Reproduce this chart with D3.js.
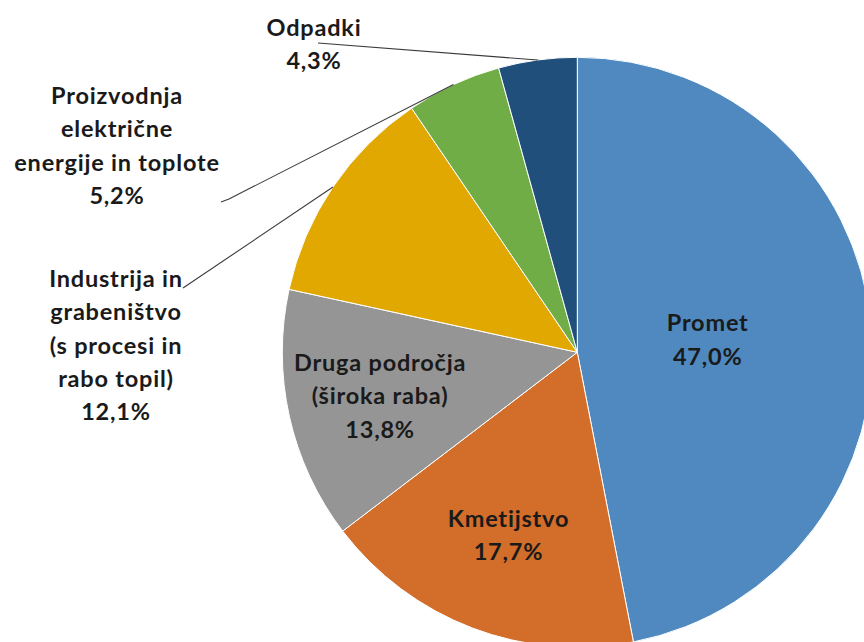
<!DOCTYPE html>
<html>
<head>
<meta charset="utf-8">
<script src="https://cdn.jsdelivr.net/npm/d3@7"></script>
<style>
  html, body { margin: 0; padding: 0; background: #fff; overflow: hidden; }
  svg text { font-family: Lato, "Open Sans", "DejaVu Sans", sans-serif; font-weight: bold; fill: #1a1a1a; letter-spacing: 0.8px; }
</style>
</head>
<body>
<div id="chart"></div>
<script>
// data, clockwise from 12 o'clock
const categories = [
  ["Promet"],
  ["Kmetijstvo"],
  ["Druga področja", "(široka raba)"],
  ["Industrija in", "grabeništvo", "(s procesi in", "rabo topil)"],
  ["Proizvodnja", "električne", "energije in toplote"],
  ["Odpadki"]
];
const shares = [47.0, 17.7, 13.8, 12.1, 5.2, 4.3];
const shareLabels = ["47,0%", "17,7%", "13,8%", "12,1%", "5,2%", "4,3%"];
const colors = ["#4f89bf", "#d26d2a", "#959595", "#e0a800", "#70ad47", "#214f7c"];

// label layout: inside labels sit on a radius, outside ones get a fixed spot + leader
const labelLayout = [
  { inside: true, r: 130 },
  { inside: true, r: 196 },
  { inside: true, r: 203 },
  { inside: false, x: 116, y: 287, leader: [183, 288] },
  { inside: false, x: 117, y: 104, leader: [221, 202], bend: [229, 199] },
  { inside: false, x: 314, y: 36, leader: [318, 43] }
];

const width = 864, height = 642;
const cx = 577.3, cy = 352.3, radius = 295;
const lineH = 33.3;

const svg = d3.select("#chart").append("svg")
  .attr("width", width)
  .attr("height", height);

const g = svg.append("g").attr("transform", `translate(${cx}, ${cy})`);

const pie = d3.pie().sort(null).value(d => d);
const arcs = pie(shares);
const arc = d3.arc().innerRadius(0).outerRadius(radius);

g.selectAll("path.slice")
  .data(arcs)
  .join("path")
  .attr("class", "slice")
  .attr("fill", (d, i) => colors[i])
  .attr("stroke", "#fff")
  .attr("stroke-width", 1)
  .attr("d", arc);

// leader lines to the middle of the slice on the rim
const rimArc = d3.arc().innerRadius(radius).outerRadius(radius);
arcs.forEach((d, i) => {
  const lay = labelLayout[i];
  if (lay.inside) return;
  const [ex, ey] = rimArc.centroid(d);
  const pts = [[lay.leader[0] - cx, lay.leader[1] - cy]];
  if (lay.bend) pts.push([lay.bend[0] - cx, lay.bend[1] - cy]);
  pts.push([ex, ey]);
  g.append("path")
    .attr("d", d3.line()(pts))
    .attr("fill", "none")
    .attr("stroke", "#3a3a3a")
    .attr("stroke-width", 1.1);
});

// labels
arcs.forEach((d, i) => {
  const lay = labelLayout[i];
  const lines = categories[i].concat([shareLabels[i]]);
  let x, y0;
  if (lay.inside) {
    const [lx, ly] = d3.arc().innerRadius(lay.r).outerRadius(lay.r).centroid(d);
    x = cx + lx + 1;
    // centre the block vertically on the point (baseline offset ~8px)
    y0 = cy + ly - (lines.length - 1) * lineH / 2 + 8;
  } else {
    x = lay.x;
    y0 = lay.y;
  }
  const t = svg.append("text")
    .attr("text-anchor", "middle")
    .attr("font-size", 23.5);
  lines.forEach((s, k) => {
    t.append("tspan").attr("x", x).attr("y", y0 + k * lineH).text(s);
  });
});
</script>
</body>
</html>
